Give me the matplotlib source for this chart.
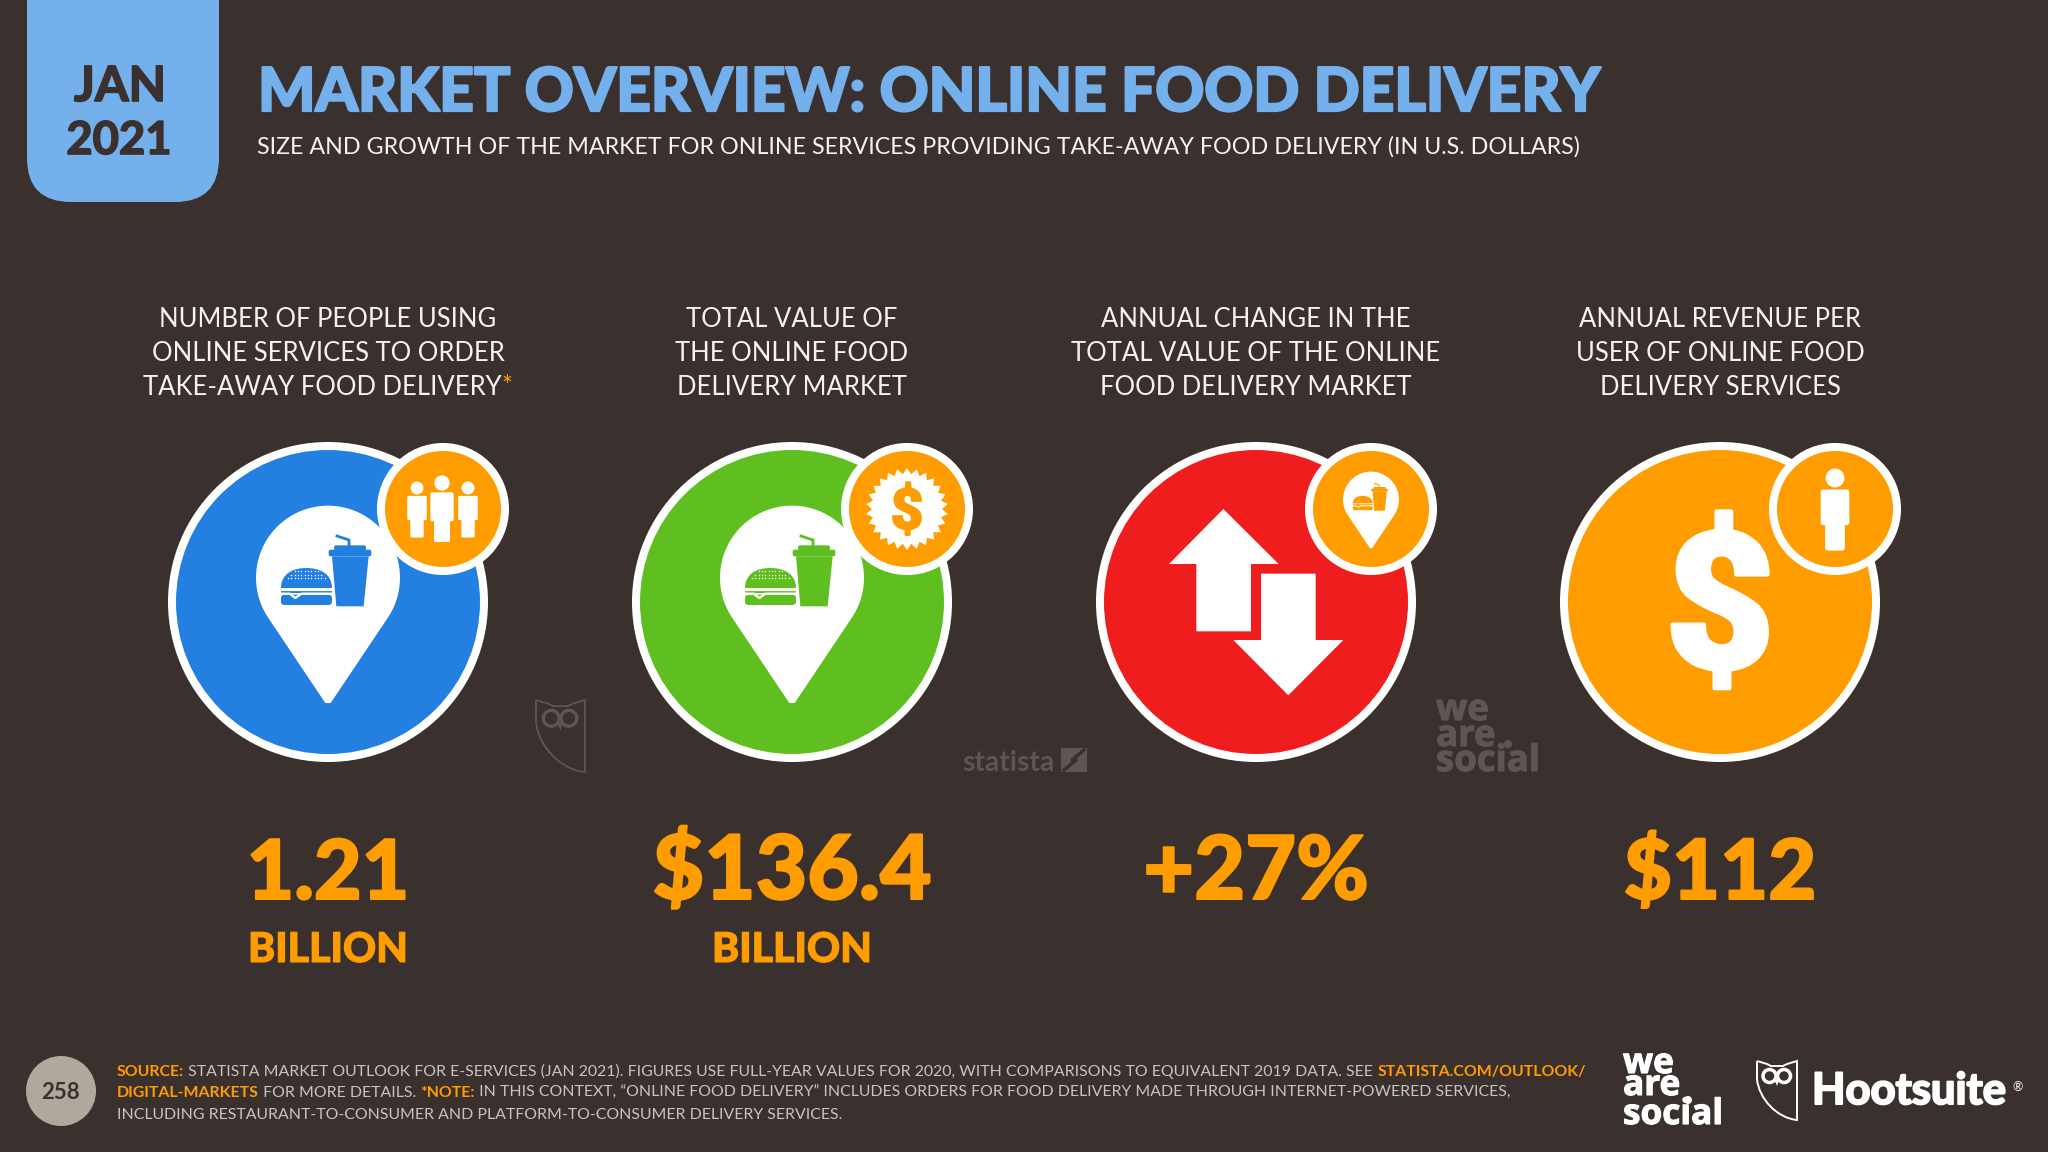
import numpy as np
import matplotlib
matplotlib.use("Agg")
import matplotlib.pyplot as plt
import matplotlib.patheffects as pe
from matplotlib.patches import Circle, Polygon, FancyBboxPatch, Rectangle, PathPatch
from matplotlib.path import Path

# ---- content -------------------------------------------------------------
date_lines = ["JAN", "2021"]
title = "MARKET OVERVIEW: ONLINE FOOD DELIVERY"
subtitle = "SIZE AND GROWTH OF THE MARKET FOR ONLINE SERVICES PROVIDING TAKE-AWAY FOOD DELIVERY (IN U.S. DOLLARS)"
headers = [
    ["NUMBER OF PEOPLE USING", "ONLINE SERVICES TO ORDER", "TAKE-AWAY FOOD DELIVERY"],
    ["TOTAL VALUE OF", "THE ONLINE FOOD", "DELIVERY MARKET"],
    ["ANNUAL CHANGE IN THE", "TOTAL VALUE OF THE ONLINE", "FOOD DELIVERY MARKET"],
    ["ANNUAL REVENUE PER", "USER OF ONLINE FOOD", "DELIVERY SERVICES"],
]
values = ["1.21", "$136.4", "+27%", "$112"]
value_spans = [154, 282, 226, 183]
units = ["BILLION", "BILLION", "", ""]
disc_colors = ["#2480E0", "#5FBF21", "#F01D1F", "#FF9C00"]
page_number = "258"
footer_lines = [
    [("SOURCE:", "o"), (" STATISTA MARKET OUTLOOK FOR E-SERVICES (JAN 2021). FIGURES USE FULL-YEAR VALUES FOR 2020, WITH COMPARISONS TO EQUIVALENT 2019 DATA. SEE ", "g"), ("STATISTA.COM/OUTLOOK/", "o")],
    [("DIGITAL-MARKETS", "o"), (" FOR MORE DETAILS. ", "g"), ("*NOTE:", "o"), (" IN THIS CONTEXT, \u201cONLINE FOOD DELIVERY\u201d INCLUDES ORDERS FOR FOOD DELIVERY MADE THROUGH INTERNET-POWERED SERVICES,", "g")],
    [("INCLUDING RESTAURANT-TO-CONSUMER AND PLATFORM-TO-CONSUMER DELIVERY SERVICES.", "g")],
]

BG = "#3A302E"
ORANGE = "#FF9C00"
SKY = "#74B0EC"
GREY = "#C9C4BE"
WM = "#5E5653"
FONT = "Lato"

fig = plt.figure(figsize=(20.48, 11.52), dpi=100, facecolor=BG)
ax = fig.add_axes([0, 0, 1, 1])
ax.set_xlim(0, 2048)
ax.set_ylim(1152, 0)
ax.axis("off")
renderer = fig.canvas.get_renderer()


def width_of(s, size, weight, family=FONT):
    t = ax.text(0, 0, s + ".", fontsize=size, fontweight=weight, family=family)
    w = t.get_window_extent(renderer).width
    t.set_text(".")
    w -= t.get_window_extent(renderer).width
    t.remove()
    return w


def size_for(s, width, weight, family=FONT):
    return 40 * width / width_of(s, 40, weight, family)


def txt(x, y, s, size, color, weight="regular", ha="left", z=5, family=FONT, stroke=0):
    t = ax.text(x, y, s, fontsize=size, color=color, fontweight=weight, family=family,
                ha=ha, va="baseline", zorder=z)
    if stroke:
        t.set_path_effects([pe.withStroke(linewidth=stroke, foreground=color)])
    return t


def run_width(parts, size, weight_map):
    return sum(width_of(s, size, weight_map[k]) for s, k in parts)


# ---- icons: coordinates in reference-zoom units around an anchor -----------
def pin(cx, cy, s, color_bg, color_icon, z=3):
    k = s / 3.0
    hx, hy, r = 0.0, -73.0, 216.0
    tipy = 303.0
    P = lambda x, y: (cx + x * k, cy + y * k)
    d = tipy - hy
    a = np.arccos(r / d)
    angs = np.linspace(np.pi / 2 + a, 2 * np.pi + np.pi / 2 - a, 80)
    pts = [P(hx + r * np.cos(t), hy + r * np.sin(t)) for t in angs]
    pts.append(P(8, tipy))
    pts.append(P(-8, tipy))
    ax.add_patch(Polygon(pts, closed=True, fc=color_bg, ec="none", zorder=z))
    food(P, k, color_icon, color_bg, z + 1)


def food(P, k, c, bg, z):
    # cup
    ax.add_patch(Polygon([P(12, -137), P(122, -137), P(107, 13), P(25, 13)], fc=c, ec="none", zorder=z))
    ax.add_patch(FancyBboxPatch(P(2, -157), 128 * k, 20 * k, boxstyle=f"round,pad=0,rounding_size={6*k}", fc=c, ec="none", zorder=z))
    ax.add_patch(FancyBboxPatch(P(18, -170), 96 * k, 15 * k, boxstyle=f"round,pad=0,rounding_size={6*k}", fc=c, ec="none", zorder=z))
    sx, sy = zip(P(27, -198), P(63, -186), P(63, -165))
    ax.plot(sx, sy, color=c, lw=6 * k * 0.72 * 1.4, solid_joinstyle="miter", zorder=z)
    # bun top
    verts = [P(-141, -42), P(-141, -85), P(-105, -102), P(-65, -102), P(-25, -102), P(12, -85), P(12, -42), P(-141, -42)]
    codes = [Path.MOVETO, Path.CURVE4, Path.CURVE4, Path.CURVE4, Path.CURVE4, Path.CURVE4, Path.CURVE4, Path.CLOSEPOLY]
    ax.add_patch(PathPatch(Path(verts, codes), fc=c, ec="none", zorder=z))
    # filling and bottom bun
    ax.add_patch(Polygon([P(-141, -37), P(12, -37), P(12, -26), P(-141, -26)], fc=c, ec="none", zorder=z))
    ax.add_patch(FancyBboxPatch(P(-141, -22), 153 * k, 31 * k, boxstyle=f"round,pad=0,rounding_size={11*k}", fc=c, ec="none", zorder=z))
    zx, zy = zip(P(-141, -25), P(-115, -25), P(-98, -12), P(-80, -25), P(12, -25))
    ax.plot(zx, zy, color=bg, lw=5 * k * 0.72 * 1.4, zorder=z + 1)
    ax.plot(*zip(P(-141, -37), P(12, -37)), color=bg, lw=2.5 * k, zorder=z + 1)
    if k > 0.25:
        for row, (x0, x1) in zip((-92, -82, -72), ((-100, -25), (-110, -15), (-120, -5))):
            xs = np.arange(x0, x1 + 1, 10)
            pp = np.array([P(x, row) for x in xs])
            ax.scatter(pp[:, 0], pp[:, 1], s=1.0, color=bg, linewidths=0, zorder=z + 1)


def person(cx, head_y, s, c="white", z=7):
    k = s / 3.0
    ax.add_patch(Circle((cx, head_y), 23 * k, fc=c, ec="none", zorder=z))
    ax.add_patch(FancyBboxPatch((cx - 35 * k, head_y + 28 * k), 70 * k, 87 * k,
                                boxstyle=f"round,pad=0,rounding_size={6*k}", fc=c, ec="none", zorder=z))
    ax.add_patch(FancyBboxPatch((cx - 24 * k, head_y + 100 * k), 48 * k, 77 * k,
                                boxstyle=f"round,pad=0,rounding_size={6*k}", fc=c, ec="none", zorder=z))


def owl(x, y, sc, c, lw):
    P = lambda a, b: (x + a * sc, y + b * sc)
    verts = [P(0, 0), P(10, 3), P(14, 5), P(26, 5), P(30, 3), P(40, 0), P(40, 59), P(20, 57), P(2, 38), P(0, 18), P(0, 0)]
    codes = [Path.MOVETO, Path.LINETO, Path.LINETO, Path.LINETO, Path.LINETO, Path.LINETO, Path.LINETO,
             Path.CURVE4, Path.CURVE4, Path.CURVE4, Path.LINETO]
    ax.add_patch(PathPatch(Path(verts, codes), fc="none", ec=c, lw=lw, zorder=4))
    for ex in (12.5, 27):
        ax.add_patch(Circle(P(ex, 15), 6.5 * sc, fc="none", ec=c, lw=lw * 1.8, zorder=4))
    ax.add_patch(Polygon([P(17.5, 19), P(22, 19), P(20, 25)], fc=c, ec="none", zorder=4))


def stacked_logo(x, baselines, width, color, dot_xy, dot_r):
    size = size_for("social", width, "bold", "Open Sans")
    for s, y in zip(["we", "are", "social"], baselines):
        txt(x, y, s, size, color, "bold", family="Open Sans", stroke=0.8)
    ax.add_patch(Circle(dot_xy, dot_r, fc=color, ec="none", zorder=5))


# ---- header ---------------------------------------------------------------
ax.add_patch(FancyBboxPatch((27, -80), 192, 282, boxstyle="round,pad=0,rounding_size=44", fc=SKY, ec="none", zorder=1))
txt(120, 101, date_lines[0], size_for(date_lines[0], 92, "bold"), BG, "bold", ha="center", stroke=1.2)
txt(119, 154, date_lines[1], size_for(date_lines[1], 105, "bold"), BG, "bold", ha="center", stroke=1.2)
txt(258, 111, title, size_for(title, 1342, "black"), SKY, "black", stroke=1.6)
txt(257, 154, subtitle, size_for(subtitle, 1326, "regular"), "#F5F3F0", "regular")

# ---- columns --------------------------------------------------------------
centers = [328 + 464 * i for i in range(4)]
head_size = size_for(headers[0][1], 352, "regular")
unit_size = size_for(units[0], 160, "black")
line_y = [327, 361, 395]
ref_size = size_for(values[1], 278, "black")

for i, cx in enumerate(centers):
    for j, line in enumerate(headers[i]):
        if i == 0 and j == 2:
            w = width_of(line + "*", head_size, "regular")
            x0 = cx - w / 2
            txt(x0, line_y[j], line, head_size, "#F5F3F0")
            txt(x0 + width_of(line, head_size, "regular"), line_y[j], "*", head_size, ORANGE)
        else:
            txt(cx, line_y[j], line, head_size, "#F5F3F0", ha="center")
    fit = size_for(values[i], value_spans[i] - 3, "black")
    txt(cx, 899, values[i], np.sqrt(fit * ref_size), ORANGE, "black", ha="center", stroke=1.5)
    if units[i]:
        txt(cx, 962, units[i], unit_size, ORANGE, "black", ha="center", stroke=0.8)

    cy = 602
    col = disc_colors[i]
    ax.add_patch(Circle((cx, cy), 160, fc="white", ec="none", zorder=2))
    ax.add_patch(Circle((cx, cy), 152, fc=col, ec="none", zorder=2))
    bx, by = cx + 115, cy - 93
    if i < 2:
        pin(cx, cy, 1.0, "white", col)
    ax.add_patch(Circle((bx, by), 66, fc="white", ec="none", zorder=5))
    ax.add_patch(Circle((bx, by), 58, fc=ORANGE, ec="none", zorder=5))

# blue badge: three people
bx, by = centers[0] + 115, 602 - 93
person(bx - 26, by - 21, 0.84)
person(bx + 25, by - 21, 0.84)
person(bx - 1, by - 26, 1.0)

# green badge: seal with dollar
bx = centers[1] + 115
n = 26
ang = np.linspace(0, 2 * np.pi, 2 * n, endpoint=False) - np.pi / 2
rad = np.where(np.arange(2 * n) % 2 == 0, 41, 35)
ax.add_patch(Polygon(np.c_[bx + rad * np.cos(ang), by + rad * np.sin(ang)], fc="white", ec="none", zorder=6))
txt(bx, by + 20, "$", 41, ORANGE, "black", ha="center", z=7, family="Roboto", stroke=1.2)

# red disc: arrows
cx = centers[2]
Pz = lambda a, b: (cx + (a - 528) / 3, 602 + (b - 547) / 3)
ax.add_patch(Polygon([Pz(*p) for p in [(430, 268), (596, 433), (513, 433), (513, 635), (349, 635), (349, 433), (267, 433)]],
                     fc="white", ec="none", zorder=3))
ax.add_patch(Polygon([Pz(*p) for p in [(625, 827), (790, 661), (707, 661), (707, 462), (543, 462), (543, 661), (460, 661)]],
                     fc="white", ec="none", zorder=3))
pin(centers[2] + 115, by, 0.388, "white", ORANGE, z=6)

# orange disc: dollar and single person
cx = centers[3]
txt(cx, 602 + 66, "$", 137, "white", "black", ha="center", z=3, family="Roboto", stroke=3)
person(cx + 115, by - 31, 1.23)

# ---- watermarks -----------------------------------------------------------
owl(536, 700, 1.22, WM, 1.3)
txt(962, 771, "statista", size_for("statista", 92, "bold"), WM, "bold")
ax.add_patch(Rectangle((1061, 748), 26, 24, fc=WM, ec="none", zorder=3))
ax.plot([1064, 1076, 1072, 1084], [770, 760, 760, 750], color=BG, lw=2.5, zorder=4)
stacked_logo(1436, [720, 746, 771], 104, WM, (1508, 744), 4)

# ---- footer ---------------------------------------------------------------
ax.add_patch(Circle((61, 1091), 35, fc="#B0A89C", ec="none", zorder=3))
txt(61, 1099, page_number, 16, BG, "bold", ha="center")
weights = {"o": "bold", "g": "regular"}
cols = {"o": ORANGE, "g": GREY}
fs = 40 * 1469 / run_width(footer_lines[0], 40, weights)
for parts, y in zip(footer_lines, [1076, 1097, 1119]):
    x = 117
    for s, k in parts:
        txt(x, y, s, fs, cols[k], weights[k])
        x += width_of(s, fs, weights[k])

# ---- logos ----------------------------------------------------------------
stacked_logo(1623, [1073, 1095, 1124], 100, "white", (1688, 1100), 4)
owl(1757, 1061, 1.0, "white", 1.4)
txt(1812, 1104, "Hootsuite", size_for("Hootsuite", 194, "bold"), "white", "bold", stroke=1.5)
txt(2012, 1091, "\u00ae", 9, "white", "regular")

fig.savefig("out.png", dpi=100, facecolor=BG)
